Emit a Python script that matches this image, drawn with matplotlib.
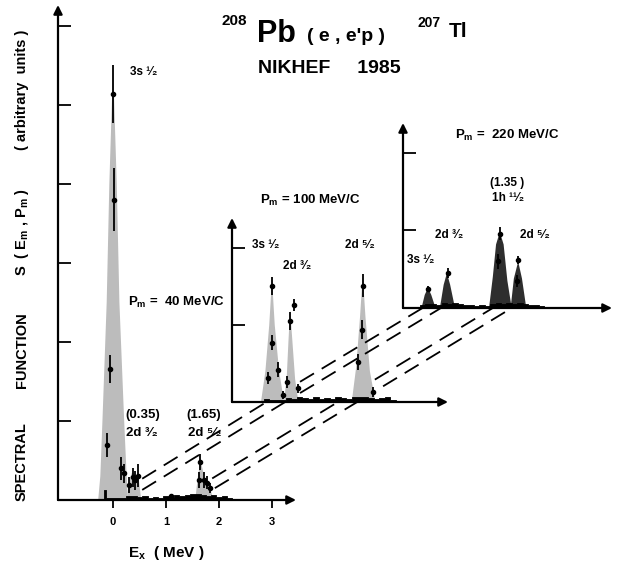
import numpy as np
import matplotlib
matplotlib.use("Agg")
import matplotlib.pyplot as plt
from matplotlib.lines import Line2D

plt.rcParams['font.family'] = ['Liberation Sans', 'DejaVu Sans']
plt.rcParams['font.weight'] = 'bold'
plt.rcParams['mathtext.fontset'] = 'custom'
plt.rcParams['mathtext.rm'] = 'Liberation Sans:bold'
plt.rcParams['mathtext.bf'] = 'Liberation Sans:bold'
plt.rcParams['mathtext.it'] = 'Liberation Sans:bold'

# ---------------- data ----------------
# Pm = 40 MeV/c
fill40_e = [-0.28, -0.24, -0.20, -0.12, -0.07, 0.0, 0.07, 0.12, 0.21, 0.25, 0.28]
fill40_s = [0.0, 0.30, 1.00, 2.50, 4.00, 5.50, 4.00, 2.50, 1.00, 0.40, 0.0]
fill40b_e = [0.26, 0.30, 0.36, 0.42, 0.48, 0.53]
fill40b_s = [0.0, 0.25, 0.35, 0.33, 0.30, 0.0]
fill40c_e = [1.55, 1.60, 1.65, 1.72, 1.80, 1.90]
fill40c_s = [0.0, 0.30, 0.50, 0.30, 0.20, 0.0]
pts40_e = [-0.11, -0.06, 0.00, 0.01, 0.15, 0.21, 0.30, 0.37, 0.41, 0.47, 1.10, 1.62, 1.64, 1.72, 1.77, 1.82]
pts40_s = [0.70, 1.66, 5.14, 3.80, 0.40, 0.34, 0.19, 0.29, 0.25, 0.31, 0.05, 0.25, 0.48, 0.25, 0.22, 0.15]
pts40_d = [0.15, 0.18, 0.37, 0.40, 0.15, 0.12, 0.10, 0.12, 0.12, 0.15, 0.03, 0.10, 0.10, 0.10, 0.08, 0.06]
noise40_e = [-0.20, -0.15, -0.10, 0.0, 0.1, 0.2, 0.3, 0.4, 0.5, 0.6, 0.7, 0.8, 0.9, 1.0, 1.1, 1.2,
             1.3, 1.4, 1.5, 1.6, 1.7, 1.8, 1.9, 2.0, 2.1, 2.2, 2.3]
noise40_s = [0.01, 0.13, 0.02, 0.03, 0.03, 0.03, 0.05, 0.05, 0.04, 0.05, 0.03, 0.04, 0.03, 0.05, 0.04, 0.06,
             0.05, 0.06, 0.07, 0.08, 0.06, 0.05, 0.06, 0.04, 0.05, 0.03, 0.0]

# Pm = 100 MeV/c
fill100_e = [-0.20, -0.12, -0.05, 0.0, 0.05, 0.13, 0.22]
fill100_s = [0.0, 0.40, 1.00, 1.60, 1.00, 0.40, 0.0]
fill100b_e = [0.22, 0.27, 0.30, 0.33, 0.37, 0.42, 0.48]
fill100b_s = [0.0, 0.35, 0.80, 1.20, 0.80, 0.30, 0.0]
fill100c_e = [1.45, 1.53, 1.60, 1.65, 1.70, 1.78, 1.88]
fill100c_s = [0.0, 0.45, 1.10, 1.65, 1.10, 0.40, 0.0]
pts100_e = [0.00, 0.00, 0.11, -0.07, 0.20, 0.40, 0.33, 0.27, 0.47, 1.65, 1.64, 1.56, 1.84]
pts100_s = [1.51, 0.77, 0.42, 0.31, 0.09, 1.26, 1.05, 0.26, 0.18, 1.51, 0.94, 0.52, 0.13]
pts100_d = [0.12, 0.10, 0.10, 0.08, 0.05, 0.08, 0.12, 0.08, 0.06, 0.15, 0.12, 0.10, 0.06]
noise100_e = [-0.20, -0.1, 0.0, 0.1, 0.2, 0.3, 0.4, 0.5, 0.6, 0.7, 0.8, 0.9, 1.0, 1.1, 1.2,
              1.3, 1.4, 1.5, 1.6, 1.7, 1.8, 1.9, 2.0, 2.1, 2.2, 2.3]
noise100_s = [0.01, 0.04, 0.03, 0.03, 0.03, 0.05, 0.04, 0.07, 0.05, 0.04, 0.06, 0.04, 0.05, 0.04, 0.06,
              0.05, 0.04, 0.06, 0.07, 0.06, 0.05, 0.04, 0.05, 0.06, 0.03, 0.0]

# Pm = 220 MeV/c
fill220_e = [-0.12, -0.06, 0.0, 0.06, 0.14]
fill220_s = [0.0, 0.17, 0.26, 0.17, 0.0]
fill220b_e = [0.22, 0.29, 0.35, 0.41, 0.50]
fill220b_s = [0.0, 0.30, 0.45, 0.30, 0.0]
fill220c_e = [1.13, 1.20, 1.26, 1.33, 1.40, 1.47, 1.55]
fill220c_s = [0.0, 0.40, 0.82, 0.98, 0.82, 0.35, 0.0]
fill220d_e = [1.53, 1.59, 1.67, 1.74, 1.82]
fill220d_s = [0.0, 0.38, 0.60, 0.38, 0.0]
pts220_e = [0.00, 0.37, 1.33, 1.30, 1.67, 1.64]
pts220_s = [0.24, 0.45, 0.96, 0.60, 0.62, 0.35]
pts220_d = [0.04, 0.06, 0.08, 0.10, 0.05, 0.08]
noise220_e = [-0.20, -0.1, 0.0, 0.1, 0.2, 0.3, 0.4, 0.5, 0.6, 0.7, 0.8, 0.9, 1.0, 1.1, 1.2,
              1.3, 1.4, 1.5, 1.6, 1.7, 1.8, 1.9, 2.0, 2.1, 2.2]
noise220_s = [0.0, 0.04, 0.05, 0.05, 0.04, 0.06, 0.05, 0.07, 0.05, 0.04, 0.04, 0.03, 0.04, 0.03, 0.05,
              0.06, 0.05, 0.06, 0.05, 0.07, 0.05, 0.04, 0.04, 0.03, 0.0]

# dashed guide lines: energies at which they meet each baseline, and where they start
guide_e = [-0.10, 0.24, 1.20, 1.55]
guide_start_lo = [0.55, 0.55, 1.87, 1.92]
guide_start_mid = [0.51, 0.51, 1.87, 2.02]

W, H = 617, 562
fig = plt.figure(figsize=(W / 100, H / 100), dpi=100)


def px_axes(left, right, bottom, top):
    return fig.add_axes([left / W, 1 - bottom / H, (right - left) / W, (bottom - top) / H])


def dress(ax, yticks):
    ax.set_facecolor('none')
    for s in ax.spines.values():
        s.set_visible(False)
    ax.annotate('', xy=(1, 0), xytext=(0, 0), xycoords='axes fraction',
                arrowprops=dict(arrowstyle='-|>', color='k', lw=1.6, mutation_scale=13,
                                shrinkA=0, shrinkB=0))
    ax.annotate('', xy=(0, 1), xytext=(0, 0), xycoords='axes fraction',
                arrowprops=dict(arrowstyle='-|>', color='k', lw=1.6, mutation_scale=13,
                                shrinkA=0, shrinkB=0))
    ax.set_yticks(yticks)
    ax.tick_params(axis='y', direction='in', length=9, width=1.3, labelleft=False)


def spectrum(ax, fills, pts, noise, fill_color):
    for e, s in fills:
        ax.fill(e, s, color=fill_color, lw=0)
    ax.fill_between(noise[0], 0, noise[1], step='mid', color='k', lw=0.6)
    ax.errorbar(pts[0], pts[1], yerr=pts[2], fmt='o', ms=3, color='k',
                elinewidth=1.3, capsize=0, clip_on=False)


# main panel, Pm = 40 MeV/c
ax1 = px_axes(58, 296, 500, 5)
ax1.set_xlim(-1.038, 3.45)
ax1.set_ylim(0, 6.266)
dress(ax1, [1, 2, 3, 4, 5, 6])
ax1.set_xticks([0, 1, 2, 3])
ax1.set_xticklabels(['0', '1', '2', '3'], fontsize=8)
ax1.tick_params(axis='x', direction='out', length=6, width=1.3, pad=6)
spectrum(ax1, [(fill40_e, fill40_s), (fill40b_e, fill40b_s), (fill40c_e, fill40c_s)],
         (pts40_e, pts40_s, pts40_d), (noise40_e, noise40_s), '#bcbcbc')

# middle panel, Pm = 100 MeV/c
ax2 = px_axes(232, 448, 402, 218)
ax2.set_xlim(-0.727, 3.2)
ax2.set_ylim(0, 2.39)
dress(ax2, [1, 2])
ax2.set_xticks([])
spectrum(ax2, [(fill100_e, fill100_s), (fill100b_e, fill100b_s), (fill100c_e, fill100c_s)],
         (pts100_e, pts100_s, pts100_d), (noise100_e, noise100_s), '#bcbcbc')

# right panel, Pm = 220 MeV/c
ax3 = px_axes(403, 612, 308, 123)
ax3.set_xlim(-0.463, 3.407)
ax3.set_ylim(0, 2.387)
dress(ax3, [1, 2])
ax3.set_xticks([])
spectrum(ax3, [(fill220_e, fill220_s), (fill220b_e, fill220b_s), (fill220c_e, fill220c_s),
               (fill220d_e, fill220d_s)],
         (pts220_e, pts220_s, pts220_d), (noise220_e, noise220_s), '#2e2e2e')

# dashed guide lines between the panels
to_fig = fig.transFigure.inverted()


def guide(ax_lo, ax_hi, e, e_start):
    p0 = ax_lo.transData.transform((e, 0))
    p1 = ax_hi.transData.transform((e, 0))
    xs = ax_lo.transData.transform((e_start, 0))[0]
    t = (xs - p0[0]) / (p1[0] - p0[0])
    ps = p0 + t * (p1 - p0)
    a, b = to_fig.transform(ps), to_fig.transform(p1)
    fig.add_artist(Line2D([a[0], b[0]], [a[1], b[1]], transform=fig.transFigure,
                          color='k', lw=1.3, ls=(0, (9, 5))))


for e, s_lo, s_mid in zip(guide_e, guide_start_lo, guide_start_mid):
    guide(ax1, ax2, e, s_lo)
    guide(ax2, ax3, e, s_mid)

# labels
kw = dict(fontsize=8.5, clip_on=False)
ax1.text(0.32, 5.42, '3s ¹⁄₂', va='center', **kw)
ax1.text(0.28, 2.50, r'P$_\mathrm{m}$ =  40 MeV/C', va='center', fontsize=9.5)
ax1.text(0.23, 1.08, '(0.35)', va='center', fontsize=9.5)
ax1.text(0.25, 0.85, '2d ³⁄₂', va='center', fontsize=9.5)
ax1.text(1.38, 1.08, '(1.65)', va='center', fontsize=9.5)
ax1.text(1.42, 0.85, '2d ⁵⁄₂', va='center', fontsize=9.5)
ax1.text(0.28, -0.67, r'E$_\mathrm{x}$  ( MeV )', va='center', fontsize=11, clip_on=False)

ax2.text(-0.22, 2.62, r'P$_\mathrm{m}$ = 100 MeV/C', va='center', fontsize=9.5, clip_on=False)
ax2.text(-0.36, 2.04, '3s ¹⁄₂', va='center', **kw)
ax2.text(0.20, 1.77, '2d ³⁄₂', va='center', **kw)
ax2.text(1.33, 2.04, '2d ⁵⁄₂', va='center', **kw)

ax3.text(0.50, 2.23, r'P$_\mathrm{m}$ =  220 MeV/C', va='center', fontsize=9.5, clip_on=False)
ax3.text(1.15, 1.61, '(1.35 )', va='center', **kw)
ax3.text(1.19, 1.42, '1h ¹¹⁄₂', va='center', **kw)
ax3.text(0.13, 0.94, '2d ³⁄₂', va='center', **kw)
ax3.text(1.70, 0.94, '2d ⁵⁄₂', va='center', **kw)
ax3.text(-0.39, 0.62, '3s ¹⁄₂', va='center', **kw)

# y label, word groups placed along the left edge
ylab_parts = ['SPECTRAL', 'FUNCTION', r'S  ( E$_\mathrm{m}$ , P$_\mathrm{m}$ )', '( arbitrary  units )']
ylab_centre = [462, 350, 232, 90]
for txt, yc in zip(ylab_parts, ylab_centre):
    fig.text(22 / W, 1 - yc / H, txt, rotation=90, ha='center', va='center', fontsize=10.5)

# title
fig.text(222 / W, 1 - 25 / H, '208', fontsize=11, va='baseline')
fig.text(257 / W, 1 - 42 / H, 'Pb', fontsize=22, va='baseline')
fig.text(307 / W, 1 - 41 / H, "( e , e'p )", fontsize=14, va='baseline')
fig.text(418 / W, 1 - 27 / H, '207', fontsize=10, va='baseline')
fig.text(449 / W, 1 - 37 / H, 'Tl', fontsize=15, va='baseline')
fig.text(258 / W, 1 - 73 / H, 'NIKHEF     1985', fontsize=14, va='baseline')

fig.savefig('out.png', dpi=100)
